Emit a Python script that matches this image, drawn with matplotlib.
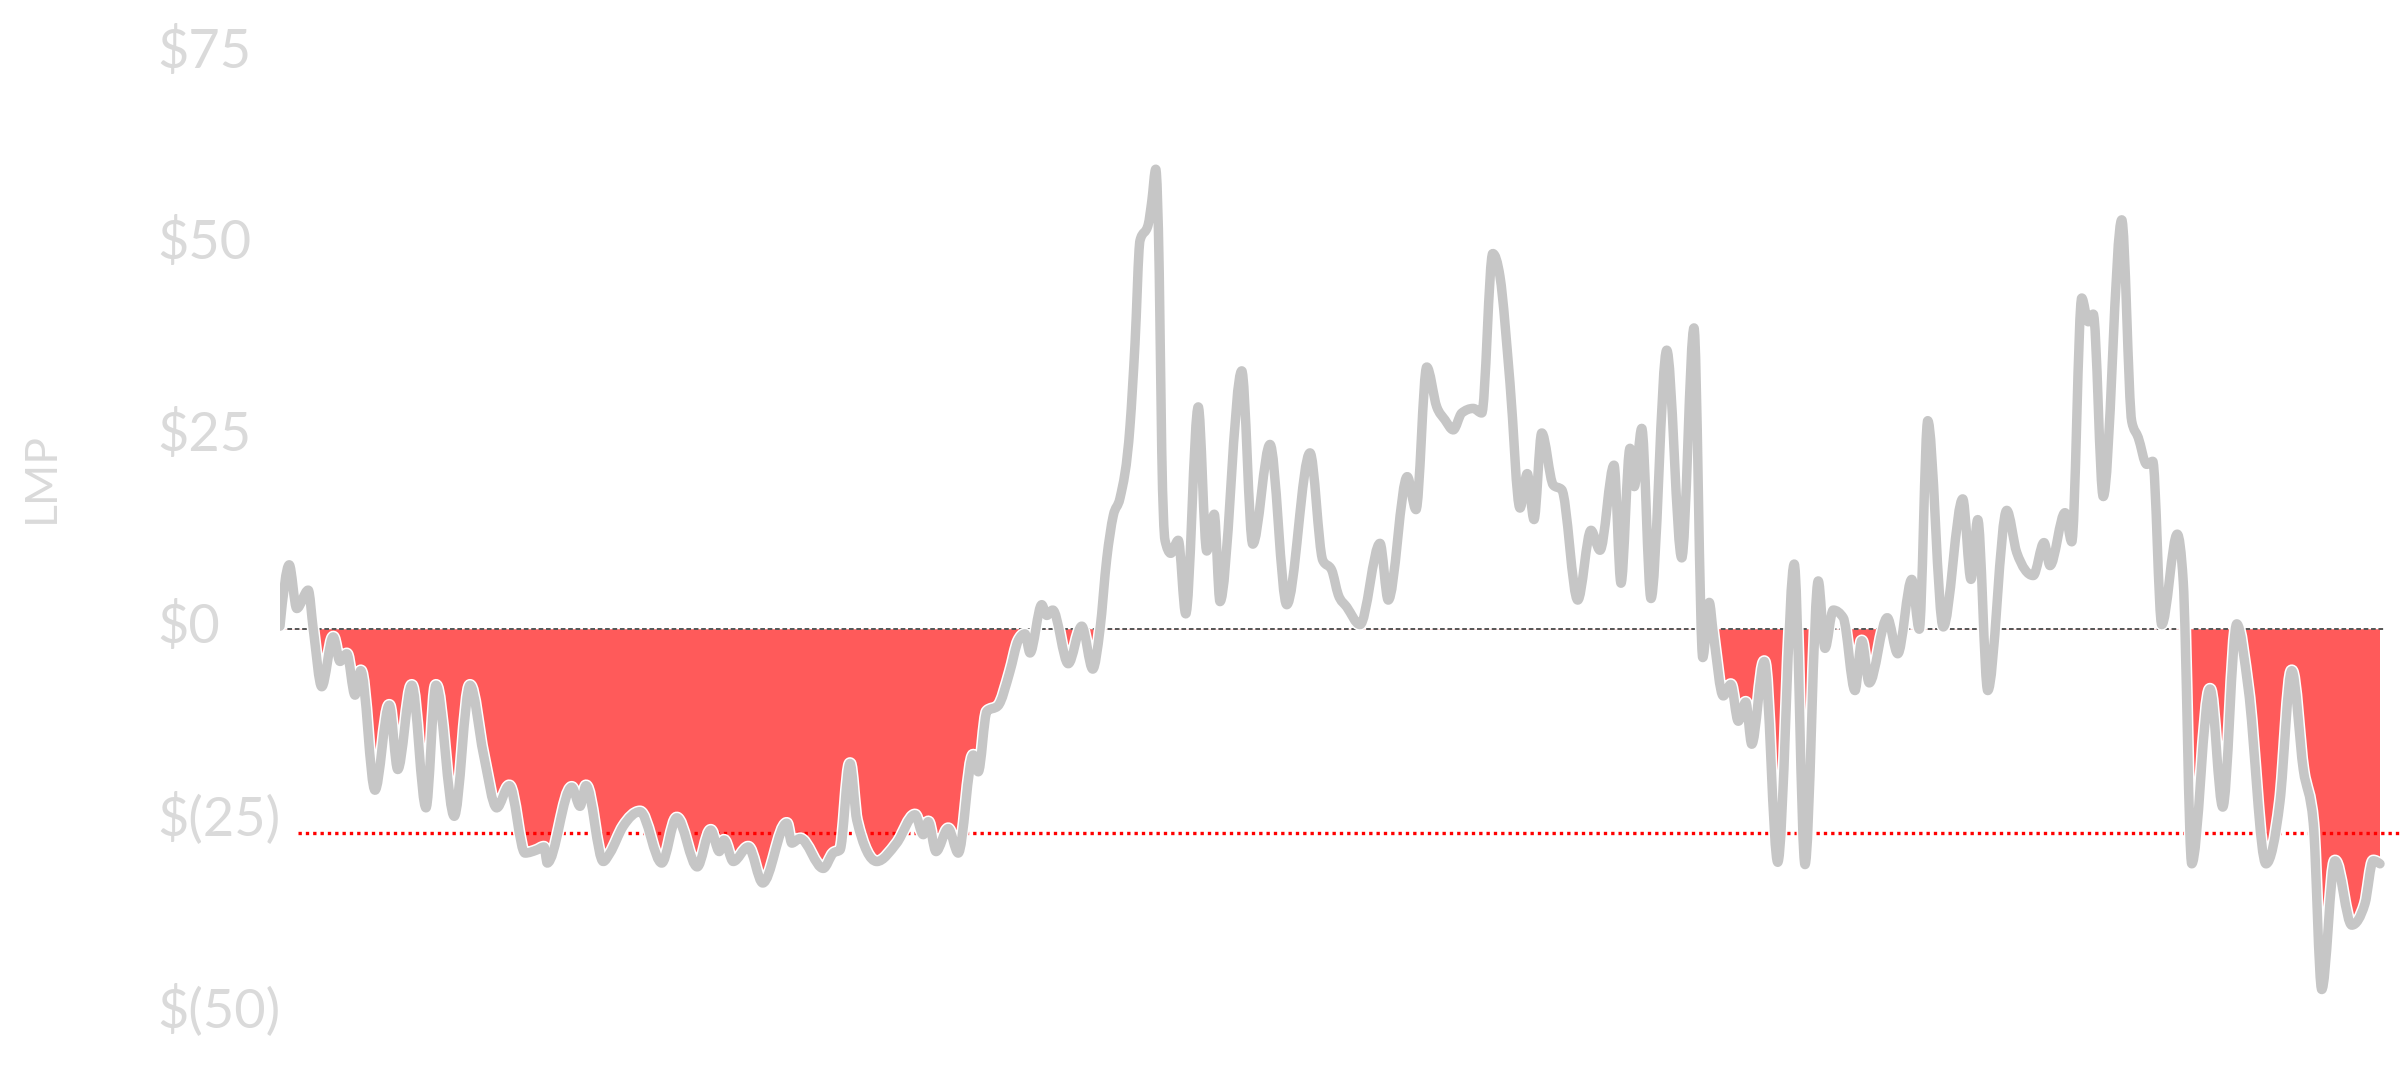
import matplotlib
matplotlib.use('Agg')

import numpy as np
import matplotlib.pyplot as plt
from matplotlib.path import Path
from matplotlib.patches import PathPatch, Rectangle
from matplotlib.transforms import ScaledTranslation
import matplotlib.patheffects as pe

# hours since start of the window and LMP ($/MWh)
hours = [0.0, 0.74, 1.34, 2.26, 2.66, 3.34, 4.26, 4.8, 5.34, 6.0, 6.46, 7.6, 8.74, 9.42,
         10.54, 11.68, 12.48, 13.94, 15.2, 16.26, 17.34, 18.34, 19.6, 20.54, 21.12, 21.38,
         23.34, 24.0, 24.48, 25.86, 26.4, 27.46, 28.8, 30.54, 31.74, 33.38, 34.46, 35.14,
         35.52, 36.26, 37.46, 38.62, 40.54, 40.94, 41.6, 43.46, 44.26, 44.8, 45.6, 46.14,
         47.74, 49.34, 50.8, 51.46, 51.86, 52.48, 53.46, 54.26, 55.46, 55.86, 56.56, 57.44,
         58.4, 59.06, 59.6, 60.0, 60.94, 61.34, 61.82, 63.06, 64.14, 65.02, 65.6, 66.14,
         66.66, 67.2, 68.0, 68.4, 68.8, 69.46, 69.74, 70.06, 70.34, 70.54, 70.8, 71.26,
         71.86, 72.46, 73.46, 74.14, 74.74, 75.2, 76.94, 77.82, 79.2, 80.54, 82.4, 83.42,
         84.14, 84.66, 85.34, 86.4, 88.0, 88.66, 90.18, 90.88, 91.74, 92.54, 93.2, 93.86,
         94.54, 95.46, 96.14, 97.02, 97.6, 98.4, 99.2, 99.78, 100.32, 100.94, 101.86,
         102.54, 103.82, 104.88, 105.6, 106.72, 107.28, 108.0, 108.34, 108.94, 109.68,
         110.94, 112.14, 113.12, 113.82, 114.34, 114.66, 115.46, 116.06, 116.66, 117.26,
         117.74, 118.74, 119.82, 121.14, 122.0, 123.06, 123.6, 124.26, 125.06, 126.0,
         126.54, 127.14, 128.58, 129.42, 130.54, 131.14, 131.82, 133.06, 134.62, 135.28,
         135.82, 136.62, 138.14, 138.94, 140.26, 141.12, 141.6, 142.8, 143.34, 144.14,
         144.66, 145.06, 145.86, 147.34, 148.14, 148.66, 149.34, 149.82, 150.54, 151.78,
         152.26, 152.94, 154.4, 155.42, 156.54, 157.46, 158.88, 160.0, 160.94, 161.86,
         162.66, 163.34, 164.4, 165.74, 166.8, 167.46, 168.0]

lmp = [0.4, 8.4, 2.7, 5.1, 0.0, -7.5, -1.0, -4.2, -3.2, -8.6, -5.4, -21.0, -9.9, -18.3,
       -7.3, -23.3, -7.3, -24.4, -7.3, -16.2, -23.3, -20.4, -29.2, -28.8, -28.4, -30.5,
       -20.6, -23.1, -20.4, -30.3, -29.2, -25.7, -23.8, -30.5, -24.6, -31.0, -26.2, -29.0,
       -27.5, -30.3, -28.4, -33.1, -25.3, -27.9, -27.3, -31.2, -29.2, -28.8, -17.5, -24.9,
       -30.3, -27.9, -24.2, -26.8, -25.1, -29.0, -26.0, -29.2, -16.4, -18.6, -10.7, -10.0,
       -5.5, -1.5, -0.6, -3.1, 3.2, 1.8, 2.5, -4.5, 0.4, -5.2, 0.0, 9.2,
       14.8, 17.1, 26.5, 37.2, 50.7, 52.8, 55.8, 60.0, 46.5, 23.2, 11.6, 9.9,
       11.6, 2.0, 29.0, 10.2, 15.0, 3.6, 33.7, 11.1, 24.1, 3.2, 23.0, 9.0,
       7.7, 4.5, 2.9, 0.6, 11.2, 3.8, 19.9, 15.6, 34.2, 29.0, 27.3, 26.0,
       28.2, 28.8, 28.2, 49.0, 46.0, 32.1, 15.8, 20.3, 14.3, 25.6, 18.8,
       18.2, 3.8, 12.9, 10.3, 21.4, 6.0, 23.6, 18.6, 26.2, 4.0,
       36.4, 9.3, 39.3, -3.7, 3.5, -0.5, -8.7, -7.2, -12.0, -9.5,
       -15.0, -4.2, -30.4, 8.5, -30.7, 6.3, -2.5, 2.5, 1.5, -8.0,
       -1.5, -7.0, 1.5, -3.2, 6.5, 0.0, 27.2, 0.3, 17.0, 6.5,
       14.3, -8.0, 15.5, 10.0, 7.0, 11.3, 8.3, 15.2, 11.4, 43.2,
       40.1, 41.1, 17.3, 53.4, 27.1, 25.0, 21.5, 21.9, 0.6, 12.4,
       6.2, -30.6, -7.8, -23.2, 0.7, -7.8, -30.6, -22.5, -5.4, -18.3,
       -25.3, -47.0, -30.2, -38.6, -35.8, -30.2, -30.6]

threshold = -26.6
yticks = [75, 50, 25, 0, -25, -50]
yticklabels = ['$75', '$50', '$25', '$0', '$(25)', '$(50)']

LINE_COLOR = '#c6c6c6'
FILL_COLOR = '#ff5a5a'
TEXT_COLOR = '#dadada'
FONT = 'Lato'


def monotone_path(x, y):
    # monotone-x cubic (same idea as d3.curveMonotoneX), drawn as bezier segments
    x = np.asarray(x, float)
    y = np.asarray(y, float)
    n = len(x)
    h = np.diff(x)
    s = np.diff(y) / h
    t = np.zeros(n)
    for i in range(1, n - 1):
        p = (s[i - 1] * h[i] + s[i] * h[i - 1]) / (h[i - 1] + h[i])
        t[i] = (np.sign(s[i - 1]) + np.sign(s[i])) * min(abs(s[i - 1]), abs(s[i]), 0.5 * abs(p))
    t[0] = (3 * s[0] - t[1]) / 2
    t[-1] = (3 * s[-1] - t[-2]) / 2
    verts = [(x[0], y[0])]
    codes = [Path.MOVETO]
    for i in range(n - 1):
        d = h[i] / 3.0
        verts += [(x[i] + d, y[i] + t[i] * d),
                  (x[i + 1] - d, y[i + 1] - t[i + 1] * d),
                  (x[i + 1], y[i + 1])]
        codes += [Path.CURVE4] * 3
    return verts, codes


fig = plt.figure(figsize=(24, 10.66), dpi=100)
ax = fig.add_axes([280 / 2400, 0, 1 - 280 / 2400, 1])
xmin, xmax = 0, 169.6
ymin, ymax = -56.97, 82.07
ax.set_xlim(xmin, xmax)
ax.set_ylim(ymin, ymax)

verts, codes = monotone_path(hours, lmp)

# red area where the price is below zero
fverts = verts + [(hours[-1], 0), (hours[0], 0), (hours[0], 0)]
fcodes = codes + [Path.LINETO, Path.LINETO, Path.CLOSEPOLY]
fill = PathPatch(Path(fverts, fcodes), facecolor=FILL_COLOR, edgecolor='none', zorder=1)
ax.add_patch(fill)
below = Rectangle((xmin, ymin), xmax - xmin, -ymin, transform=ax.transData)
fill.set_clip_path(below)

ax.hlines(0, hours[0], 168.4, colors='#555555', linestyles=(0, (2.4, 1.4)), lw=1.4, zorder=2)
ax.hlines(threshold, 1.44, xmax, colors='red', linestyles=(0, (1, 1.2)), lw=2.4, zorder=2)

line = PathPatch(Path(verts, codes), facecolor='none', edgecolor=LINE_COLOR, lw=6.8,
                 capstyle='round', joinstyle='round', zorder=3)
line.set_path_effects([pe.Stroke(linewidth=9.0, foreground='white'), pe.Normal()])
ax.add_patch(line)

ax.set_xticks([])
ax.set_yticks(yticks)
ax.set_yticklabels(yticklabels, fontsize=39, color=TEXT_COLOR, family=FONT, ha='left')
ax.tick_params(axis='y', length=0, pad=88.5)
# labels sit a little above their gridline in the original
for lab in ax.get_yticklabels():
    lab.set_transform(lab.get_transform() + ScaledTranslation(0, 0.075, fig.dpi_scale_trans))
for sp in ax.spines.values():
    sp.set_visible(False)

fig.text(41 / 2400, 1 - 477 / 1066, 'LMP', rotation=90, ha='center', va='center',
         fontsize=32, color=TEXT_COLOR, family=FONT)

plt.savefig('out.png', dpi=100)
